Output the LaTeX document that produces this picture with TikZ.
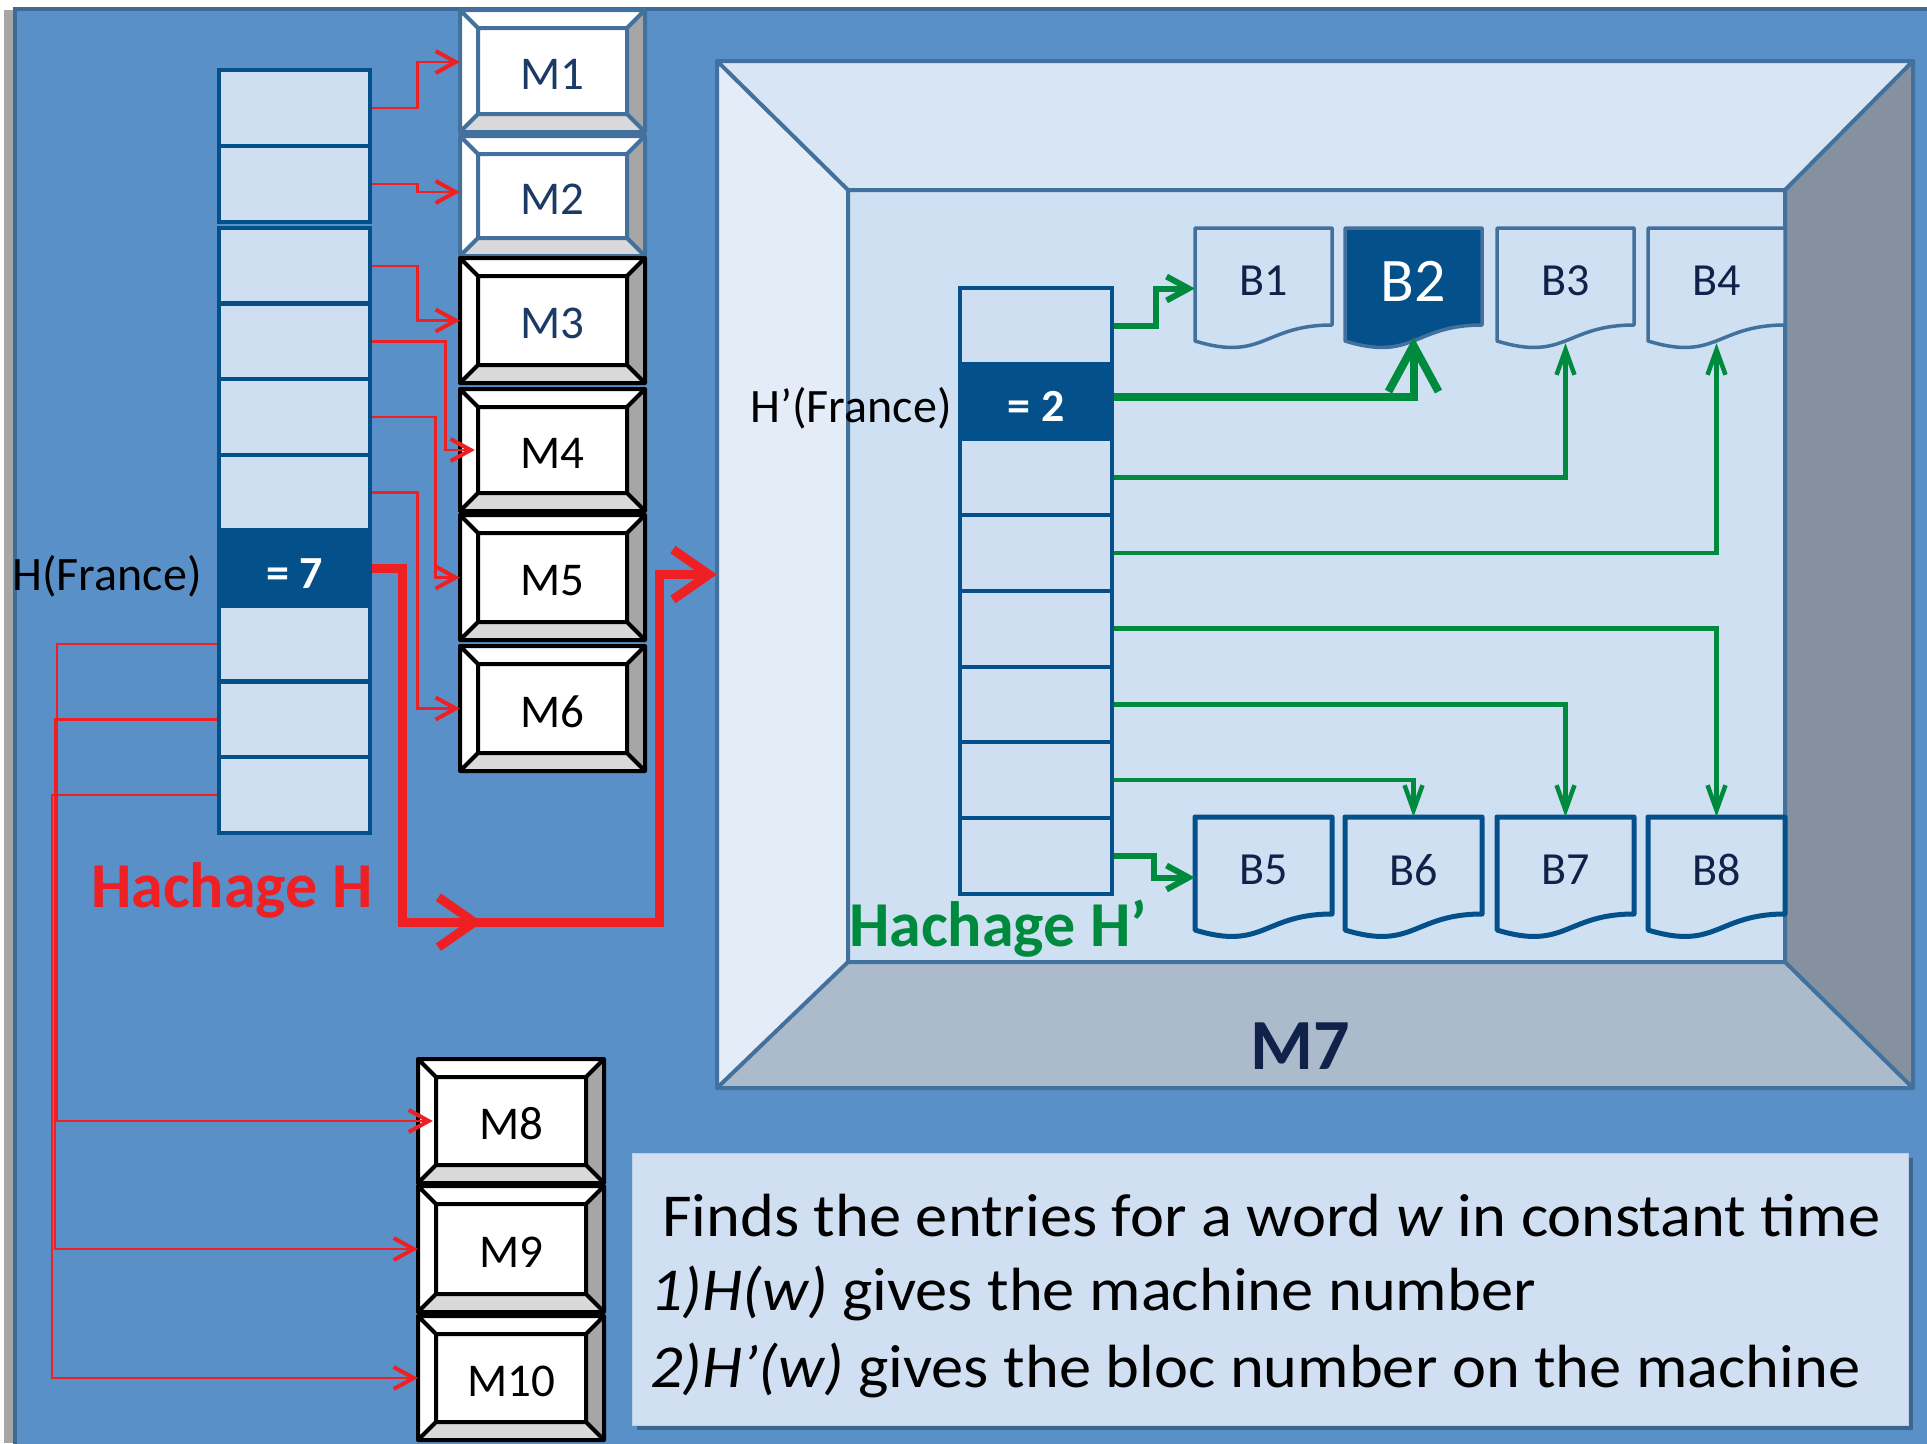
\documentclass[tikz,border=0pt]{standalone}
\usepackage{fontspec}
\setmainfont{Carlito}
\usetikzlibrary{arrows.meta,calc}

\definecolor{bgblue}{HTML}{5990C7}
\definecolor{bgedge}{HTML}{3D6A98}
\definecolor{cellfill}{HTML}{CFDFF1}
\definecolor{celledge}{HTML}{03508A}
\definecolor{steel}{HTML}{41719C}
\definecolor{hred}{HTML}{EE2024}
\definecolor{hgreen}{HTML}{008A3E}
\definecolor{navy}{HTML}{10224A}
\definecolor{mblue}{HTML}{1C3A66}
\definecolor{facetop}{HTML}{D8E5F5}
\definecolor{faceleft}{HTML}{E4ECF8}
\definecolor{faceinner}{HTML}{CFE0F2}
\definecolor{facebot}{HTML}{ACBBCB}
\definecolor{faceright}{HTML}{85919E}
\definecolor{keyright}{HTML}{A6A6A6}
\definecolor{keybot}{HTML}{D9D9D9}
\definecolor{notefill}{HTML}{D0E0F2}

\newcommand\fs[1]{\fontsize{#1}{#1}\selectfont}
\newcommand\wide[1]{\scalebox{1.056}[1]{#1}}

% bevelled machine key: name, x0, y0, width, height, edge colour, text colour, label
\newcommand\machine[8]{%
  \begin{scope}[shift={(#2,#3)}]
    \fill[white] (0,0) rectangle (#4,#5);
    \fill[keyright] (#4,0) -- (#4,#5) -- ({#4-18},{#5-18}) -- ({#4-18},18) -- cycle;
    \fill[keybot] (0,#5) -- (#4,#5) -- ({#4-18},{#5-18}) -- (18,{#5-18}) -- cycle;
    \draw[#6, line width=4pt, line join=round]
      (0,0) rectangle (#4,#5) (18,18) rectangle ({#4-18},{#5-18})
      (0,0) -- (18,18) (#4,0) -- ({#4-18},18)
      (0,#5) -- (18,{#5-18}) (#4,#5) -- ({#4-18},{#5-18});
    \node[inner sep=0, minimum width=#4pt, minimum height=#5pt] (#1) at ({#4/2},{#5/2}) {};
    \node[inner sep=0, text=#7, font=\fs{47}] (#1t) at ({#4/2},{#5/2+3}) {#8};
  \end{scope}}

% storage bloc with a wavy lower edge: name, x0, y0, shape style, text style, label
\newcommand\bloc[6]{%
  \draw[#4] (#2,#3) -- ++(137,0) -- ++(0,97)
    .. controls ({#2+68.5},{#3+97}) and ({#2+68.5},{#3+134}) .. ({#2},{#3+113}) -- cycle;
  \node[inner sep=0, minimum width=137pt, minimum height=121pt] (#1) at ({#2+68.5},{#3+60.5}) {};
  \node[inner sep=0, #5] (#1t) at ({#2+68.5},{#3+53}) {#6};}

\tikzset{
  cell/.style={draw=celledge, fill=cellfill, line width=4.5pt, minimum width=151pt,
    minimum height=75.6pt, inner sep=0},
  cellp/.style={cell, line width=4pt, minimum width=152pt, minimum height=75.7pt},
  hot/.style={fill=celledge},
  hottext/.style={inner sep=0, text=white, font=\bfseries\fs{46}},
  blocline/.style={draw=steel, fill=faceinner, line width=3.5pt, line join=round},
  blocdark/.style={draw=celledge, fill=faceinner, line width=5pt, line join=round},
  bloctext/.style={text=navy, font=\fs{46}},
  rthin/.style={draw=hred, line width=2.5pt,
    -{Straight Barb[length=20pt,width=22pt,line width=4pt]}},
  rthick/.style={draw=hred, line width=9pt,
    -{Straight Barb[length=36pt,width=50pt]}},
  gthin/.style={draw=hgreen, line width=4.5pt,
    -{Straight Barb[length=25pt,width=18pt]}},
  gside/.style={draw=hgreen, line width=6pt,
    -{Straight Barb[length=22pt,width=24pt]}},
  gthick/.style={draw=hgreen, line width=8pt,
    -{Straight Barb[length=46pt,width=50pt]}},
  notetext/.style={anchor=base west, inner sep=0, font=\fs{61}},
}

\begin{document}
\begin{tikzpicture}[x=1pt, y=-1pt]
  \useasboundingbox (0,0) rectangle (1927,1443);
  % slide background
  \fill[white] (0,0) rectangle (1927,1443);
  \fill[keyright] (4,10) rectangle (14,1443);
  \draw[bgedge, line width=4pt, fill=bgblue] (15,9) rectangle (1960,1480);

  % machine M7, drawn as an open box
  \fill[facetop] (717,61) -- (1913,61) -- (1785,190) -- (848,190) -- cycle;
  \fill[faceleft] (717,61) -- (848,190) -- (848,962) -- (717,1088) -- cycle;
  \fill[faceright] (1913,61) -- (1913,1088) -- (1785,962) -- (1785,190) -- cycle;
  \fill[facebot] (717,1088) -- (1913,1088) -- (1785,962) -- (848,962) -- cycle;
  \fill[faceinner] (848,190) rectangle (1785,962);
  \draw[steel, line width=4pt, line join=round]
    (717,61) rectangle (1913,1088) (848,190) rectangle (1785,962)
    (717,61) -- (848,190) (1913,61) -- (1785,190)
    (717,1088) -- (848,962) (1913,1088) -- (1785,962);
  \node[inner sep=0, minimum width=1196pt, minimum height=1027pt] (m7) at (1315,574.5) {};
  \node[anchor=base, inner sep=0, text=navy, font=\bfseries\fs{72}] (m7t) at (1300,1069) {M7};

  % machine keys
  \machine{m1}{460}{10}{185}{122}{steel}{mblue}{M1}
  \machine{m2}{460}{136}{185}{120}{steel}{mblue}{M2}
  \machine{m3}{460}{258}{185}{125}{black}{mblue}{M3}
  \machine{m4}{460}{389}{185}{122}{black}{black}{M4}
  \machine{m5}{460}{515}{185}{125}{black}{black}{M5}
  \machine{m6}{460}{646}{185}{125}{black}{black}{M6}
  \machine{m8}{418}{1059}{186}{124}{black}{black}{M8}
  \machine{m9}{418}{1186}{186}{126}{black}{black}{M9}
  \machine{m10}{418}{1316}{186}{124}{black}{black}{M10}

  % hash table H
  \node[cell] (hr1) at (294.5,108) {};
  \node[cell] (hr2) at (294.5,184) {};
  \foreach \i in {3,4,5,6,8,9,10}
    \node[cell] (hr\i) at (294.5,{265.8+75.6*(\i-3)}) {};
  \node[cell, hot] (hr7) at (294.5,568.2) {};
  \node[hottext] (hr7t) at ([yshift=-5pt]hr7.center) {= 7};
  \node[anchor=base, inner sep=0, font=\fs{48}] (hlab) at (107,590) {H(France)};
  \node[anchor=base west, inner sep=0, text=hred, font=\bfseries\fs{64}] (hname) at (91,907) {Hachage H};

  % hash table H'
  \foreach \i in {1,3,4,5,6,7,8}
    \node[cellp] (hp\i) at (1036,{325.85+75.7*(\i-1)}) {};
  \node[cellp, hot] (hp2) at (1036,401.55) {};
  \node[hottext] (hp2t) at ([yshift=-5pt]hp2.center) {= 2};
  \node[anchor=base, inner sep=0, font=\fs{48}] (hplab) at (851,422) {H’(France)};
  \node[anchor=base west, inner sep=0, text=hgreen, font=\bfseries\fs{64}] (hpname) at (849,946) {Hachage H’};

  % blocs of M7
  \bloc{b1}{1195}{228}{blocline}{bloctext}{B1}
  \bloc{b2}{1345}{228}{blocline, fill=celledge}{text=white, font=\fs{62}}{B2}
  \bloc{b3}{1497}{228}{blocline}{bloctext}{B3}
  \bloc{b4}{1648}{228}{blocline}{bloctext}{B4}
  \bloc{b5}{1195}{817}{blocdark}{bloctext}{B5}
  \bloc{b6}{1345}{817}{blocdark}{bloctext}{B6}
  \bloc{b7}{1497}{817}{blocdark}{bloctext}{B7}
  \bloc{b8}{1648}{817}{blocdark}{bloctext}{B8}

  % H: table rows to machines
  \draw[rthin] (hr1.east) -- ++(45,0) |- ([yshift=9pt]m1.west);
  \draw[rthin] (hr2.east) -- ++(45,0) |- ([yshift=4pt]m2.west);
  \draw[rthin] (hr3.east) -- ++(45,0) |- (m3.west);
  \draw[rthin] (hr4.east) -- ++(73,0) |- ([xshift=15pt]m4.west);
  \draw[rthin] (hr5.east) -- ++(63,0) |- (m5.west);
  \draw[rthin] (hr6.east) -- ++(45,0) |- (m6.west);
  \draw[rthin] (hr8.west) -- ++(-160,0) |- ([xshift=15pt]m8.west);
  \draw[rthin] (hr9.west) -- ++(-162,0) |- (m9.west);
  \draw[rthin] (hr10.west) -- ++(-165,0) |- (m10.west);
  \draw[rthick] (hr7.east) -| ++(30,354) coordinate (rbend) -- ++(80,0);
  \draw[rthick] (rbend) -| ([xshift=-57pt]m7.west) -- (m7.west);

  % H': table rows to blocs
  \draw[gside] (hp1.east) -- ++(42,0) |- (b1.west);
  \draw[gthin] (hp3.east) -| ([yshift=6pt]b3.south);
  \draw[gthin] (hp4.east) -| ([yshift=6pt]b4.south);
  \draw[gthin] (hp5.east) -| (b8.north);
  \draw[gthin] (hp6.east) -| (b7.north);
  \draw[gthin] (hp7.east) -| (b6.north);
  \draw[gside] (hp8.east) -- ++(40,0) |- (b5.west);
  \draw[gthick] ([yshift=5pt]hp2.east) -| ([yshift=12pt]b2.south);

  % explanation note
  \fill[bgedge!70!black, opacity=.6] (637,1158) rectangle (1913,1430);
  \node[fill=notefill, draw=notefill!85!steel, line width=1pt, minimum width=1276pt,
    minimum height=272pt, inner sep=0] (note) at (1270,1289) {};
  \node[notetext] (note1) at (662,1236)
    {\wide{Finds the entries for a word \textit{w} in constant time}};
  \node[notetext] (note2) at (650,1310)
    {\wide{\textit{1)H(w)} gives the machine number}};
  \node[notetext] (note3) at (650,1387)
    {\wide{\textit{2)H’(w)} gives the bloc number on the machine}};
\end{tikzpicture}
\end{document}
